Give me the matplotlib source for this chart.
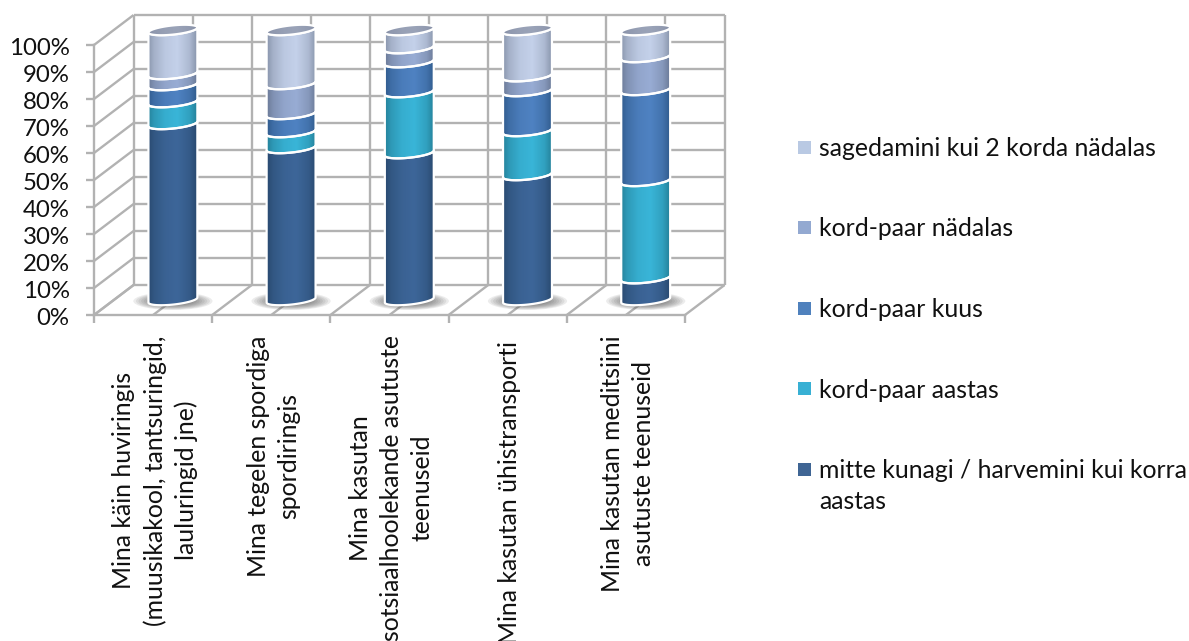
import matplotlib
matplotlib.use('Agg')
import matplotlib.pyplot as plt
import numpy as np
from matplotlib.patches import Ellipse, PathPatch, Rectangle
from matplotlib.path import Path
from matplotlib.colors import to_rgb
from matplotlib.transforms import ScaledTranslation

categories = [
    'Mina käin huviringis\n(muusikakool, tantsuringid,\nlauluringid jne)',
    'Mina tegelen spordiga\nspordiringis',
    'Mina kasutan\nsotsiaalhoolekande asutuste\nteenuseid',
    'Mina kasutan ühistransporti',
    'Mina kasutan meditsiini\nasutuste teenuseid',
]
never = [65.2, 56.3, 54.4, 46.3, 8.1]
yearly = [8.1, 5.9, 22.6, 16.3, 36.0]
monthly = [6.3, 6.7, 11.1, 14.8, 33.7]
weekly = [4.1, 11.1, 5.2, 5.5, 12.2]
often = [16.3, 20.0, 6.7, 17.1, 10.0]
series = [never, yearly, monthly, weekly, often]

labels = ['mitte kunagi / harvemini kui korra\naastas', 'kord-paar aastas', 'kord-paar kuus',
          'kord-paar nädalas', 'sagedamini kui 2 korda nädalas']
legend_colors = ['#3f6594', '#38b0d4', '#4f81bd', '#93a9d1', '#b9c9e3']
edge_colors = ['#294a70', '#25829b', '#315c8e', '#6c7b98', '#8a96ad']
mid_colors = ['#3d6699', '#39b5d8', '#4f82c2', '#98acd4', '#c4d1ea']

W, H = 1189, 641
GRID = '#b2b2b2'
FONT = 'Lato'
FS = 17.8
DX, DY = 0.335, 11.11  # depth of the 3d box in data units
A, B, S = 0.207, 1.7, 0.93  # cylinder ellipse

plt.rcParams['font.family'] = FONT
fig = plt.figure(figsize=(W / 100, H / 100), dpi=100)
ax = fig.add_axes([94 / W, (H - 315) / H, 591 / W, 270 / H])
ax.set_xlim(0, 5)
ax.set_ylim(0, 100)
ax.patch.set_visible(False)


def wall(xs, ys, z=1):
    ax.plot(xs, ys, color=GRID, lw=1.7, clip_on=False, zorder=z, solid_capstyle='butt')


# side wall and back wall
for v in np.arange(0, 101, 10):
    wall([0, DX], [v, v + DY])
    wall([DX, 5 + DX], [v + DY, v + DY])
for k in np.arange(0, 5.01, 0.5):
    wall([k, k + DX], [0, DY])
    wall([k + DX, k + DX], [DY, 100 + DY])

t_low = np.linspace(np.pi, 2 * np.pi, 40)


def arc(cx, y, t):
    return cx + A * np.cos(t), y + S * np.cos(t) + B * np.sin(t)


def shaded(path, cx, y0, y1, edge, mid, z):
    # horizontal shading of one cylinder piece
    u = np.linspace(0, 1, 120)
    e, m = np.array(to_rgb(edge)), np.array(to_rgb(mid))
    w = np.interp(u, [0, 0.12, 0.35, 0.6, 0.85, 1], [0, 0.45, 0.85, 1, 0.6, 0])
    img = (e[None, :] + (m - e)[None, :] * w[:, None])[None, :, :]
    im = ax.imshow(img, extent=(cx - A, cx + A, y0, y1), aspect='auto', zorder=z)
    im.set_clip_box(fig.bbox)
    p = PathPatch(path, transform=ax.transData, facecolor='none', edgecolor='none')
    ax.add_patch(p)
    im.set_clip_path(p)


for i in range(len(categories)):
    cx = i + 0.5 + DX / 2
    base = DY / 2
    # shadow on the floor
    for n in range(10):
        f = 1 - n / 10
        ax.add_patch(Ellipse((cx, base - 0.4), 0.44 * f + 0.23, 4.8 * f + 1.8, facecolor='#4a4a4a',
                             alpha=0.1, edgecolor='none', zorder=2, clip_on=False))
    bottom = 0
    for s in range(len(series)):
        top = bottom + series[s][i]
        x0, y0 = arc(cx, base + bottom, t_low)
        x1, y1 = arc(cx, base + top, t_low[::-1])
        xy = np.column_stack([np.r_[x0, x1], np.r_[y0, y1]])
        path = Path(np.vstack([xy, xy[0]]), closed=True)
        shaded(path, cx, base + bottom - 4, base + top + 4, edge_colors[s], mid_colors[s], 3)
        ax.add_patch(PathPatch(path, facecolor='none', edgecolor='white', lw=1.6, zorder=4,
                               clip_on=False))
        bottom = top
    # top cap
    t_all = np.linspace(0, 2 * np.pi, 80)
    xc, yc = arc(cx, base + bottom, t_all)
    cap = Path(np.column_stack([xc, yc]), closed=True)
    shaded(cap, cx, base + bottom - 4, base + bottom + 4, '#868fa6', '#9aa3b8', 5)
    ax.add_patch(PathPatch(cap, facecolor='none', edgecolor='white', lw=1.6, zorder=6, clip_on=False))

ax.set_xlim(0, 5)
ax.set_ylim(0, 100)

for sp in ['top', 'right']:
    ax.spines[sp].set_visible(False)
for sp in ['left', 'bottom']:
    ax.spines[sp].set_color(GRID)
    ax.spines[sp].set_linewidth(1.7)

ax.set_yticks(np.arange(0, 101, 10))
ax.set_yticklabels([f'{v}%' for v in range(0, 101, 10)], fontsize=17.3, color='#111111')
ax.tick_params(axis='y', length=5.5, width=1.7, color=GRID, pad=12)
for lab in ax.get_yticklabels():
    lab.set_transform(lab.get_transform() + ScaledTranslation(0, -1.5 / 100, fig.dpi_scale_trans))
ax.set_xticks(np.arange(0, 5.01, 1))
ax.set_xticklabels([])
ax.tick_params(axis='x', which='major', length=5.5, width=1.7, color=GRID)
ax.set_xticks(np.arange(0.5, 5), minor=True)
ax.set_xticklabels(categories, minor=True, rotation=90, ha='center', va='top', ma='center',
                   fontsize=FS, color='#111111', linespacing=1.4)
ax.tick_params(axis='x', which='minor', length=0, pad=14.5)
for n, lab in enumerate(ax.get_xticklabels(minor=True)):
    down = 6 if n == 3 else 0  # single line label sits lower in the original
    lab.set_transform(lab.get_transform() + ScaledTranslation(2 / 100, -down / 100, fig.dpi_scale_trans))

# legend
for k, (lab, col) in enumerate(zip(labels[::-1], legend_colors[::-1])):
    y = 147 + 80.5 * k
    fig.add_artist(Rectangle((797.5 / W, 1 - (y + 6.5) / H), 13 / W, 13 / H, facecolor=col,
                             edgecolor='none', transform=fig.transFigure))
    fig.text(819 / W, 1 - (y - 10) / H, lab, fontsize=FS, color='#111111', va='top', ha='left',
             linespacing=1.4)

fig.savefig('out.png', dpi=100)
